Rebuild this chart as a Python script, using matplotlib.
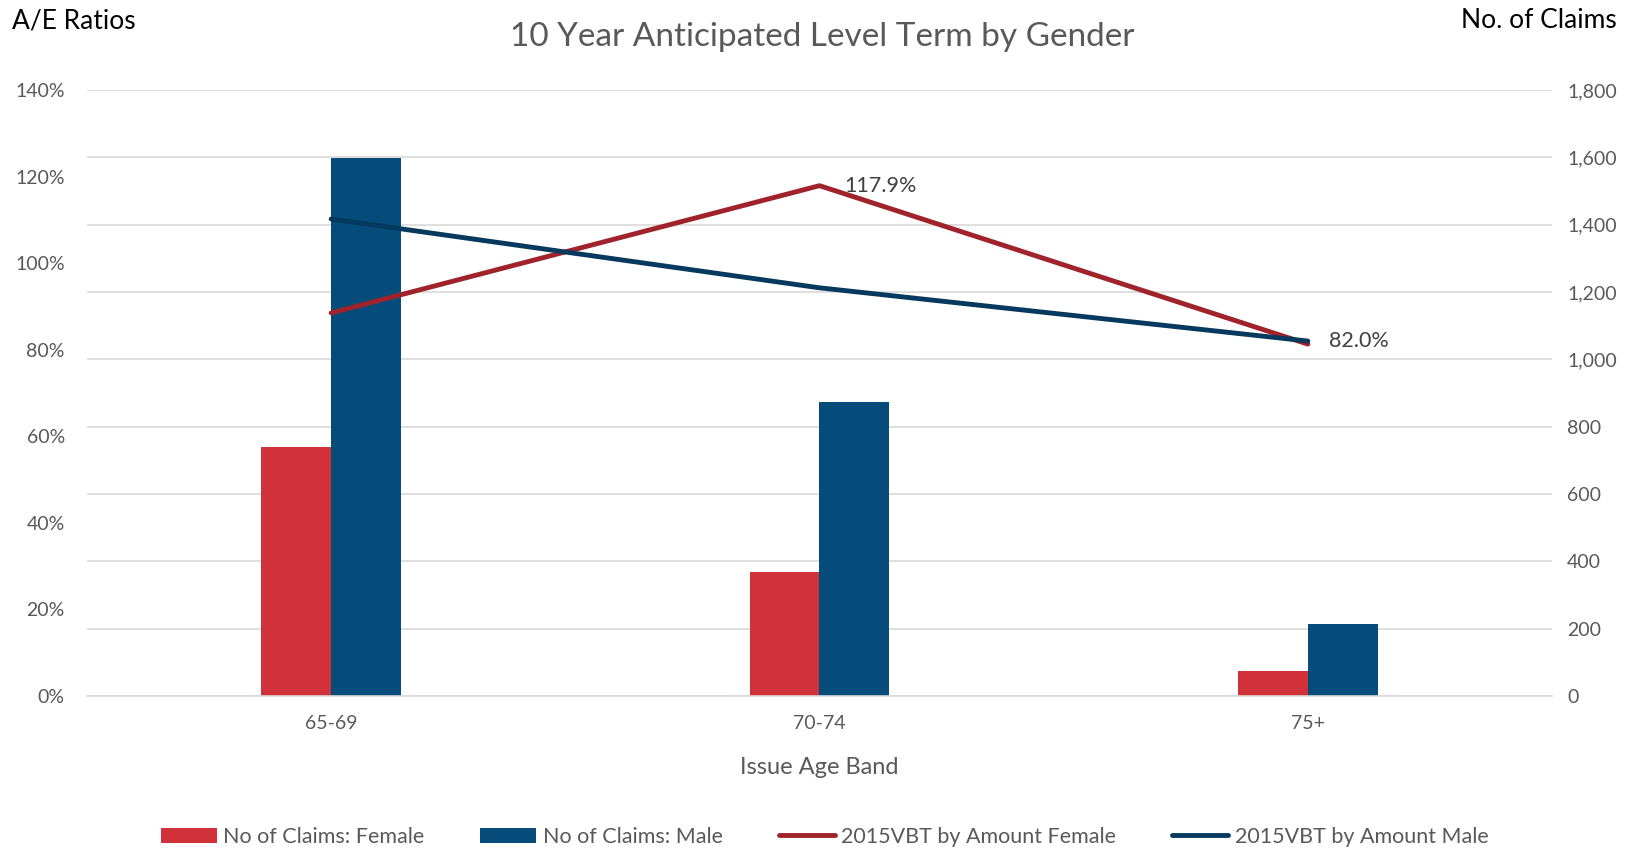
import matplotlib
matplotlib.use("Agg")
import matplotlib.pyplot as plt
import numpy as np
from matplotlib.ticker import FuncFormatter

plt.rcParams['font.family'] = ['Lato', 'DejaVu Sans']

categories = ["65-69", "70-74", "75+"]
claims_female = [740, 368, 74]
claims_male = [1597, 874, 215]
ae_female = [0.885, 1.179, 0.813]
ae_male = [1.102, 0.943, 0.820]

c_fbar = "#d13239"
c_mbar = "#064c7a"
c_fline = "#a0222a"
c_mline = "#053a5e"
grey = "#595959"

fig = plt.figure(figsize=(16.49, 8.5), dpi=100)
ax = fig.add_axes([87/1649, 1-696/850, (1552-87)/1649, (696-90)/850])
x = np.arange(len(categories))
w = 0.143
b1 = ax.bar(x - w/2, claims_female, width=w, color=c_fbar, label="No of Claims: Female", zorder=2)
b2 = ax.bar(x + w/2, claims_male, width=w, color=c_mbar, label="No of Claims: Male", zorder=2)
ax.set_ylim(0, 1800)
ax.set_yticks(np.arange(0, 1801, 200))
ax.yaxis.set_major_formatter(FuncFormatter(lambda v, p: f"{int(v):,}"))
ax.grid(axis='y', color="#d9d9d9", linewidth=1.2, zorder=0)
ax.set_axisbelow(True)
for s in ax.spines.values():
    s.set_visible(False)
ax.spines['bottom'].set_visible(True)
ax.spines['bottom'].set_color("#d9d9d9")
ax.spines['bottom'].set_linewidth(1.2)
ax.set_xticks(x)
ax.set_xticklabels(categories)
ax.set_xlim(-0.5, 2.5)
ax.set_xlabel("Issue Age Band", fontsize=17, color=grey, labelpad=18)

ax2 = ax.twinx()
l1, = ax2.plot(x, ae_female, color=c_fline, linewidth=3.5, solid_capstyle='round', label="2015VBT by Amount Female")
l2, = ax2.plot(x, ae_male, color=c_mline, linewidth=3.5, solid_capstyle='round', label="2015VBT by Amount Male")
ax2.set_ylim(0, 1.4)
ax2.set_yticks(np.arange(0, 1.41, 0.2))
ax2.yaxis.set_major_formatter(FuncFormatter(lambda v, p: f"{v*100:.0f}%"))
for s in ax2.spines.values():
    s.set_visible(False)

# axis sides: percentages on the left, claims on the right
ax.yaxis.tick_right()
ax2.yaxis.tick_left()
ax.tick_params(axis='both', length=0, colors=grey, labelsize=14)
ax.tick_params(axis='y', pad=11)
ax.tick_params(axis='x', pad=14)
ax2.tick_params(axis='y', length=0, colors=grey, labelsize=14, pad=16)

ax2.annotate(f"{ae_female[1]*100:.1f}%", (x[1], ae_female[1]), xytext=(18, 0), textcoords='offset points',
             ha='left', va='center', fontsize=15.5, color="#404040")
ax2.annotate(f"{ae_male[2]*100:.1f}%", (x[2], ae_male[2]), xytext=(15, 0), textcoords='offset points',
             ha='left', va='center', fontsize=15.5, color="#404040")

fig.text(508/1649 + (1136-508)/1649/2, 1-37/850, "10 Year Anticipated Level Term by Gender",
         ha='center', va='center', fontsize=24, color=grey)
fig.text(12/1649, 1-21/850, "A/E Ratios", ha='left', va='center', fontsize=19, color="black")
fig.text(1617/1649, 1-21/850, "No. of Claims", ha='right', va='center', fontsize=19, color="black")

fig.legend(handles=[b1, b2, l1, l2], loc='center', bbox_to_anchor=(0.5, 1-837/850), ncol=4,
           frameon=False, fontsize=15.5, labelcolor=grey, handlelength=2.6, handletextpad=0.3,
           columnspacing=2.6)

fig.savefig("out.png", dpi=100)
